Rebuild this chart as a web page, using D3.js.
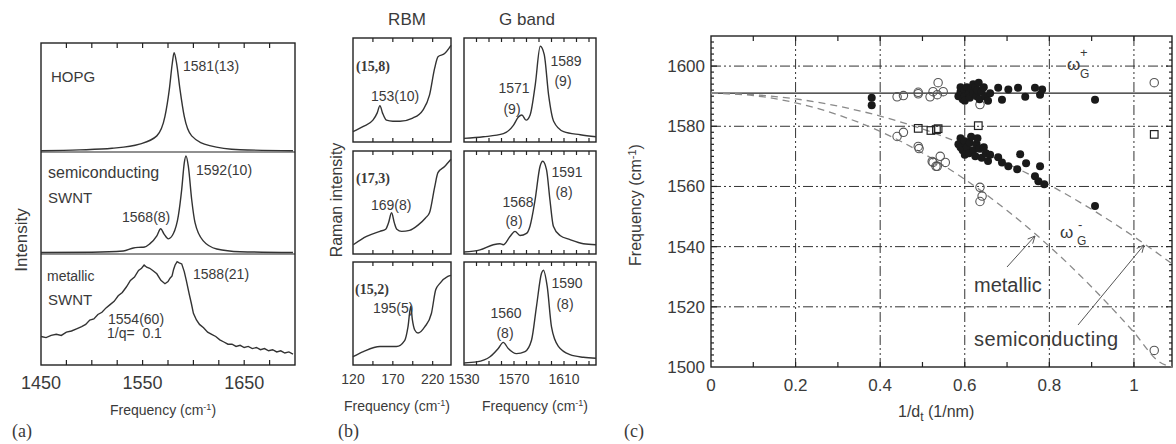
<!DOCTYPE html>
<html>
<head>
<meta charset="utf-8">
<style>
  body { margin: 0; background: #fff; }
  text { font-family: "Liberation Sans", Arial, sans-serif; fill: #3a3a3a; }
  .serif { font-family: "Liberation Serif", "Times New Roman", serif; }
  .frame { fill: none; stroke: #222; stroke-width: 1.4; }
  .tick { stroke: #222; stroke-width: 1.2; }
  .spec { fill: none; stroke: #333; stroke-width: 1.4; }
  .grid { stroke: #333; stroke-width: 1; stroke-dasharray: 10,3,2,3,2,3; }
  .theory { fill: none; stroke: #8a8a8a; stroke-width: 1.3; stroke-dasharray: 7,5; }
</style>
<script src="https://cdn.jsdelivr.net/npm/d3@7/dist/d3.min.js"></script>
</head>
<body>
<svg id="fig" width="1176" height="444"></svg>
<script>
// ---- panel (a) spectra: [frequency, normalised intensity] ----
var hopg = [[1450,0.003],[1488,0.01],[1520,0.025],[1547,0.064],[1564,0.14],[1572,0.32],[1576.3,0.57],
  [1579.2,0.81],[1581,0.91],[1583.5,0.81],[1586.8,0.57],[1591,0.32],[1598.3,0.14],[1616,0.05],[1646,0.012],[1698,0.003]];
var semi = [[1450,0.005],[1500,0.008],[1531,0.02],[1541,0.05],[1546,0.056],[1552,0.06],[1557,0.09],[1564,0.17],
  [1567.8,0.24],[1571,0.19],[1575.3,0.14],[1580.2,0.19],[1585.2,0.37],[1588.5,0.63],[1591,0.89],[1592.7,0.96],
  [1595,0.86],[1598.3,0.53],[1601.6,0.30],[1609.7,0.12],[1623,0.04],[1646,0.013],[1698,0.005]];
var metal = [[1450,0.25],[1455,0.24],[1460,0.26],[1465,0.27],[1470,0.26],[1475,0.29],[1480,0.30],[1485,0.32],
  [1490,0.34],[1494,0.36],[1498,0.40],[1502,0.41],[1506,0.45],[1510,0.47],[1514,0.51],[1518,0.54],[1522,0.57],
  [1526,0.62],[1530,0.65],[1534,0.70],[1538,0.76],[1542,0.79],[1546,0.85],[1549,0.87],[1551.5,0.90],[1554,0.88],
  [1557,0.87],[1560,0.85],[1564,0.82],[1568,0.76],[1572,0.73],[1575,0.75],[1577,0.78],[1579,0.80],[1580.5,0.86],
  [1582,0.90],[1584,0.93],[1586,0.92],[1588.5,0.91],[1591,0.84],[1593,0.76],[1596,0.63],[1598,0.55],[1600,0.46],
  [1603,0.40],[1606,0.36],[1610,0.33],[1614,0.29],[1618,0.27],[1622,0.25],[1626,0.22],[1630,0.20],[1634,0.18],
  [1638,0.18],[1642,0.16],[1646,0.17],[1650,0.15],[1654,0.16],[1658,0.14],[1662,0.15],[1666,0.13],[1670,0.14],
  [1674,0.12],[1678,0.13],[1682,0.11],[1686,0.12],[1690,0.10],[1694,0.11],[1698,0.09]];
var aTicks = [1450, 1550, 1650];

// ---- panel (b) spectra ----
var rbm1 = [[120,0.10],[133,0.15],[145,0.21],[150.4,0.28],[153.8,0.35],[157,0.28],[162,0.21],[170,0.20],[179,0.20],
  [195,0.23],[208,0.31],[216,0.45],[222.5,0.71],[226.7,0.82],[235,0.85],[240.4,0.90],[243,0.93]];
var rbm2 = [[120.4,0.09],[137,0.17],[153.8,0.22],[161,0.24],[164.5,0.30],[168.4,0.40],[172,0.30],[175,0.24],
  [181,0.22],[191,0.23],[201.6,0.28],[211,0.35],[216,0.40],[222.5,0.65],[226.6,0.79],[235,0.85],[243,0.92]];
var rbm3 = [[120,0.08],[133,0.13],[153.8,0.18],[174.6,0.18],[185,0.24],[189,0.37],[192.5,0.57],[194.5,0.44],
  [197.5,0.34],[201.6,0.31],[210,0.37],[218.4,0.50],[223.8,0.73],[228.8,0.79],[239,0.86],[243,0.87]];
var g1 = [[1530,0.035],[1545.5,0.05],[1561.5,0.08],[1569.5,0.16],[1573.5,0.24],[1576.3,0.26],[1579.7,0.21],
  [1582.9,0.26],[1587,0.55],[1591,0.92],[1594.2,0.84],[1597.7,0.45],[1601.7,0.20],[1609.7,0.10],[1623,0.07],[1635.6,0.05]];
var g2 = [[1530,0.02],[1542.8,0.04],[1553.4,0.09],[1558.8,0.10],[1561.4,0.09],[1566.8,0.17],[1570.8,0.22],
  [1574.8,0.18],[1580,0.20],[1582.8,0.27],[1586.8,0.52],[1590.8,0.85],[1593,0.90],[1596,0.82],[1598.8,0.52],
  [1601.5,0.27],[1606.8,0.18],[1614.8,0.14],[1625.5,0.10],[1635.6,0.09]];
var g3 = [[1530,0.02],[1540,0.03],[1550.8,0.08],[1557.4,0.16],[1561.4,0.22],[1565.4,0.16],[1572,0.11],
  [1578.8,0.13],[1584,0.24],[1588,0.57],[1592,0.89],[1593.5,0.92],[1596.6,0.76],[1600,0.37],[1605.5,0.18],
  [1614.8,0.10],[1625.5,0.075],[1635.6,0.065]];
var rbmTicks = [120, 170, 220];
var gTicks = [1530, 1570, 1610];

// ---- panel (c): [1/dt, frequency] ----
var filledUpper = [[0.38,1589.5],[0.38,1587],[0.585,1590],[0.59,1591.5],[0.59,1593],[0.595,1589],[0.6,1592],
  [0.6,1590],[0.6,1588.5],[0.605,1593],[0.61,1591],[0.612,1589.5],[0.615,1592.5],[0.62,1594],[0.62,1591],
  [0.625,1593],[0.628,1590],[0.63,1592],[0.633,1594.5],[0.635,1589],[0.64,1591.5],[0.645,1593],[0.648,1590],
  [0.655,1588.5],[0.66,1591],[0.679,1592.8],[0.688,1588.8],[0.703,1592.2],[0.726,1592.8],[0.743,1589.8],
  [0.766,1592.8],[0.778,1590.5],[0.783,1592.2],[0.908,1588.8]];
var filledLower = [[0.585,1574],[0.59,1576],[0.59,1573],[0.595,1572],[0.6,1575],[0.6,1570.5],[0.605,1573],
  [0.61,1571],[0.612,1574.5],[0.615,1576.5],[0.62,1572],[0.625,1570],[0.628,1574],[0.63,1576],[0.635,1572.5],
  [0.64,1569.5],[0.645,1573],[0.65,1571],[0.655,1568.5],[0.66,1570.5],[0.679,1569.7],[0.688,1568],[0.703,1566.7],
  [0.724,1565.7],[0.731,1570.7],[0.745,1567.7],[0.778,1566.7],[0.766,1563.4],[0.774,1561.7],[0.788,1560.7],
  [0.908,1553.5]];
var openCircles = [[0.44,1589.8],[0.455,1590.2],[0.49,1590.8],[0.49,1591.3],[0.518,1589.8],[0.525,1591.5],
  [0.535,1590.5],[0.537,1594.5],[0.549,1591.5],[0.636,1587.2],[1.048,1594.5],[0.44,1576.6],[0.455,1578],
  [0.49,1573.3],[0.492,1572.6],[0.523,1568.3],[0.532,1566.7],[0.525,1568],[0.542,1570],[0.554,1568],
  [0.535,1566.7],[0.636,1559.7],[0.641,1556.8],[0.636,1555],[1.048,1505.5]];
var squares = [[0.49,1579.3],[0.52,1578.6],[0.533,1578.9],[0.537,1579.2],[0.632,1580.2],[1.048,1577.3]];
var omegaPlus = 1591;
var curveX = [0, 0.1, 0.2, 0.3, 0.4, 0.5, 0.6, 0.7, 0.8, 0.9, 1.0, 1.06, 1.09];
var semiCurve = [1591, 1590.5, 1589.1, 1586.7, 1583.4, 1579.1, 1573.8, 1567.6, 1560.5, 1552.4, 1543.3, 1537.4, 1534.3];
var metalCurve = [1591, 1590.2, 1587.8, 1583.8, 1578.3, 1571.1, 1562.4, 1552.0, 1540.1, 1526.6, 1511.5, 1501.7, 1500];
var cxTicks = [0, 0.2, 0.4, 0.6, 0.8, 1];
var cyTicks = [1500, 1520, 1540, 1560, 1580, 1600];

var svg = d3.select('#fig');

function frame(x0, x1, y0, y1) {
  svg.append('rect').attr('class', 'frame')
    .attr('x', x0).attr('y', y0).attr('width', x1 - x0).attr('height', y1 - y0);
}
function innerTicks(x, vals, y0, y1, len) {
  vals.forEach(function(v) {
    svg.append('line').attr('class', 'tick').attr('x1', x(v)).attr('x2', x(v)).attr('y1', y0).attr('y2', y0 + len);
    svg.append('line').attr('class', 'tick').attr('x1', x(v)).attr('x2', x(v)).attr('y1', y1).attr('y2', y1 - len);
  });
}
function spectrum(data, x, y, curve) {
  svg.append('path').attr('class', 'spec')
    .attr('d', d3.line().x(d => x(d[0])).y(d => y(d[1])).curve(curve || d3.curveMonotoneX)(data));
}
function label(t, x, y, size, anchor, cls) {
  return svg.append('text').attr('x', x).attr('y', y).attr('font-size', size)
    .attr('text-anchor', anchor || 'start').attr('class', cls || null).text(t);
}

// ---------------- panel (a) ----------------
var ax = d3.scaleLinear().domain([1450, 1700]).range([41, 295]);
var aRows = [[43, 152], [152, 254], [254, 365]];
var aY = aRows.map(r => d3.scaleLinear().domain([0, 1]).range([r[1] - 1, r[0]]));
frame(41, 295, 43, 365);
svg.append('line').attr('class', 'tick').attr('x1', 41).attr('x2', 295).attr('y1', 152).attr('y2', 152);
svg.append('line').attr('class', 'tick').attr('x1', 41).attr('x2', 295).attr('y1', 254).attr('y2', 254);
innerTicks(ax, d3.range(1475, 1700, 25), 43, 365, 5);
spectrum(hopg, ax, aY[0]);
spectrum(semi, ax, aY[1]);
spectrum(metal, ax, aY[2], d3.curveLinear);
aTicks.forEach(v => label(v, ax(v), 389, 18, 'middle'));
label('HOPG', 51, 82, 15);
label('1581(13)', 183, 71, 14);
label('semiconducting', 48, 178, 16);
label('SWNT', 48, 203, 15);
label('1592(10)', 196, 175, 14);
label('1568(8)', 122, 222, 14);
label('metallic', 47, 281, 14);
label('SWNT', 48, 305, 15);
label('1588(21)', 193, 279, 14);
label('1554(60)', 108, 324, 14);
label('1/q=  0.1', 107, 338, 14).attr('xml:space', 'preserve');
var fa = label('Frequency (cm', 110, 415, 14);
fa.append('tspan').attr('dy', -5).attr('font-size', 9).text('-1');
fa.append('tspan').attr('dy', 5).text(')');
label('Intensity', 0, 0, 17, 'middle').attr('transform', 'translate(27,240) rotate(-90)');
label('(a)', 12, 437, 18, 'start', 'serif');

// ---------------- panel (b) ----------------
var rx = d3.scaleLinear().domain([120, 243]).range([353, 451]);
var gx = d3.scaleLinear().domain([1530, 1635.6]).range([464, 596]);
var bRows = [[38, 142], [151, 254], [262, 365]];
var rbms = [rbm1, rbm2, rbm3], gs = [g1, g2, g3];
bRows.forEach(function(r, i) {
  var y = d3.scaleLinear().domain([0, 1]).range([r[1], r[0]]);
  frame(353, 451, r[0], r[1]);
  frame(464, 596, r[0], r[1]);
  innerTicks(rx, d3.range(145, 243, 25), r[0], r[1], 4);
  innerTicks(gx, d3.range(1540, 1636, 10), r[0], r[1], 4);
  spectrum(rbms[i], rx, y);
  spectrum(gs[i], gx, y);
});
label('RBM', 407, 25, 17, 'middle');
label('G band', 527, 25, 17, 'middle');
rbmTicks.forEach(v => label(v, rx(v), 384, 14, 'middle'));
gTicks.forEach(v => label(v, gx(v), 384, 14, 'middle'));
label('(15,8)', 356, 71, 14, 'start', 'serif').attr('font-weight', 'bold');
label('153(10)', 371, 101, 14);
label('1571', 514, 93, 14, 'middle');
label('(9)', 512, 114, 14, 'middle');
label('1589', 566, 66, 14, 'middle');
label('(9)', 563, 86, 14, 'middle');
label('(17,3)', 356, 183, 14, 'start', 'serif').attr('font-weight', 'bold');
label('169(8)', 371, 210, 14);
label('1568', 518, 207, 14, 'middle');
label('(8)', 514, 226, 14, 'middle');
label('1591', 567, 177, 14, 'middle');
label('(8)', 564, 197, 14, 'middle');
label('(15,2)', 355, 294, 14, 'start', 'serif').attr('font-weight', 'bold');
label('195(5)', 373, 313, 14);
label('1560', 506, 318, 14, 'middle');
label('(8)', 505, 338, 14, 'middle');
label('1590', 567, 288, 14, 'middle');
label('(8)', 565, 309, 14, 'middle');
[[397, 'Frequency (cm'], [535, 'Frequency (cm']].forEach(function(p) {
  var t = label(p[1], p[0], 411, 14, 'middle');
  t.append('tspan').attr('dy', -5).attr('font-size', 9).text('-1');
  t.append('tspan').attr('dy', 5).text(')');
});
label('Raman intensity', 0, 0, 16, 'middle').attr('transform', 'translate(342,200) rotate(-90)');
label('(b)', 338, 437, 18, 'start', 'serif');

// ---------------- panel (c) ----------------
var cx = d3.scaleLinear().domain([0, 1.09]).range([711, 1172]);
var cy = d3.scaleLinear().domain([1500, 1610]).range([367, 36]);
[0.2, 0.4, 0.6, 0.8, 1.0].forEach(function(v) {
  svg.append('line').attr('class', 'grid').attr('x1', cx(v)).attr('x2', cx(v)).attr('y1', 36).attr('y2', 367);
});
[1520, 1540, 1560, 1580, 1600].forEach(function(v) {
  svg.append('line').attr('class', 'grid').attr('x1', 711).attr('x2', 1172).attr('y1', cy(v)).attr('y2', cy(v));
});
innerTicks(cx, d3.range(0.1, 1.09, 0.1), 36, 367, 5);
d3.range(1502, 1610, 2).forEach(function(v) {
  var len = v % 20 === 0 ? 6 : 3;
  svg.append('line').attr('class', 'tick').attr('x1', 711).attr('x2', 711 + len).attr('y1', cy(v)).attr('y2', cy(v));
  svg.append('line').attr('class', 'tick').attr('x1', 1172).attr('x2', 1172 - len).attr('y1', cy(v)).attr('y2', cy(v));
});
frame(711, 1172, 36, 367);
svg.append('line').attr('stroke', '#222').attr('stroke-width', 1.4)
  .attr('x1', cx(0)).attr('x2', cx(1.09)).attr('y1', cy(omegaPlus)).attr('y2', cy(omegaPlus));
var th = d3.line().x(d => cx(d[0])).y(d => cy(d[1])).curve(d3.curveMonotoneX);
svg.append('path').attr('class', 'theory').attr('d', th(curveX.map((x, i) => [x, semiCurve[i]])));
svg.append('path').attr('class', 'theory').attr('d', th(curveX.map((x, i) => [x, metalCurve[i]])));

svg.selectAll('.oc').data(openCircles).enter().append('circle')
  .attr('cx', d => cx(d[0])).attr('cy', d => cy(d[1])).attr('r', 4.2)
  .attr('fill', 'none').attr('stroke', '#555').attr('stroke-width', 1.1);
svg.selectAll('.sq').data(squares).enter().append('rect')
  .attr('x', d => cx(d[0]) - 3.8).attr('y', d => cy(d[1]) - 3.8).attr('width', 7.6).attr('height', 7.6)
  .attr('fill', 'none').attr('stroke', '#222').attr('stroke-width', 1.2);
svg.selectAll('.fc').data(filledUpper.concat(filledLower)).enter().append('circle')
  .attr('cx', d => cx(d[0])).attr('cy', d => cy(d[1])).attr('r', 4).attr('fill', '#1a1a1a');

cyTicks.forEach(v => label(v, 705, cy(v) + 6, 17, 'end'));
cxTicks.forEach(v => label(v, cx(v), 391, 17, 'middle'));
var xl = label('1/d', 898, 417, 16);
xl.append('tspan').attr('dy', 4).attr('font-size', 12).text('t');
xl.append('tspan').attr('dy', -4).text(' (1/nm)');
var yl = label('Frequency (cm', 0, 0, 16, 'middle').attr('transform', 'translate(641,205) rotate(-90)');
yl.append('tspan').attr('dy', -5).attr('font-size', 11).text('-1');
yl.append('tspan').attr('dy', 5).text(')');
label('(c)', 624, 437, 18, 'start', 'serif');

label('\u03c9', 1067, 70, 17);
label('+', 1080, 57, 13);
label('G', 1080, 78, 12);
label('\u03c9', 1060, 238, 17);
label('-', 1078, 229, 13);
label('G', 1077, 245, 12);

label('metallic', 974, 292, 20);
label('semiconducting', 974, 346, 20).attr('letter-spacing', 0.4);
function arrow(x1, y1, x2, y2) {
  svg.append('line').attr('stroke', '#555').attr('stroke-width', 1)
    .attr('x1', x1).attr('y1', y1).attr('x2', x2).attr('y2', y2);
  var a = Math.atan2(y2 - y1, x2 - x1), L = 8;
  [a + 2.7, a - 2.7].forEach(function(b) {
    svg.append('line').attr('stroke', '#555').attr('stroke-width', 1)
      .attr('x1', x2).attr('y1', y2).attr('x2', x2 + L * Math.cos(b)).attr('y2', y2 + L * Math.sin(b));
  });
}
arrow(1007, 267, 1035, 236);
arrow(1078, 325, 1144, 245);
</script>
</body>
</html>
